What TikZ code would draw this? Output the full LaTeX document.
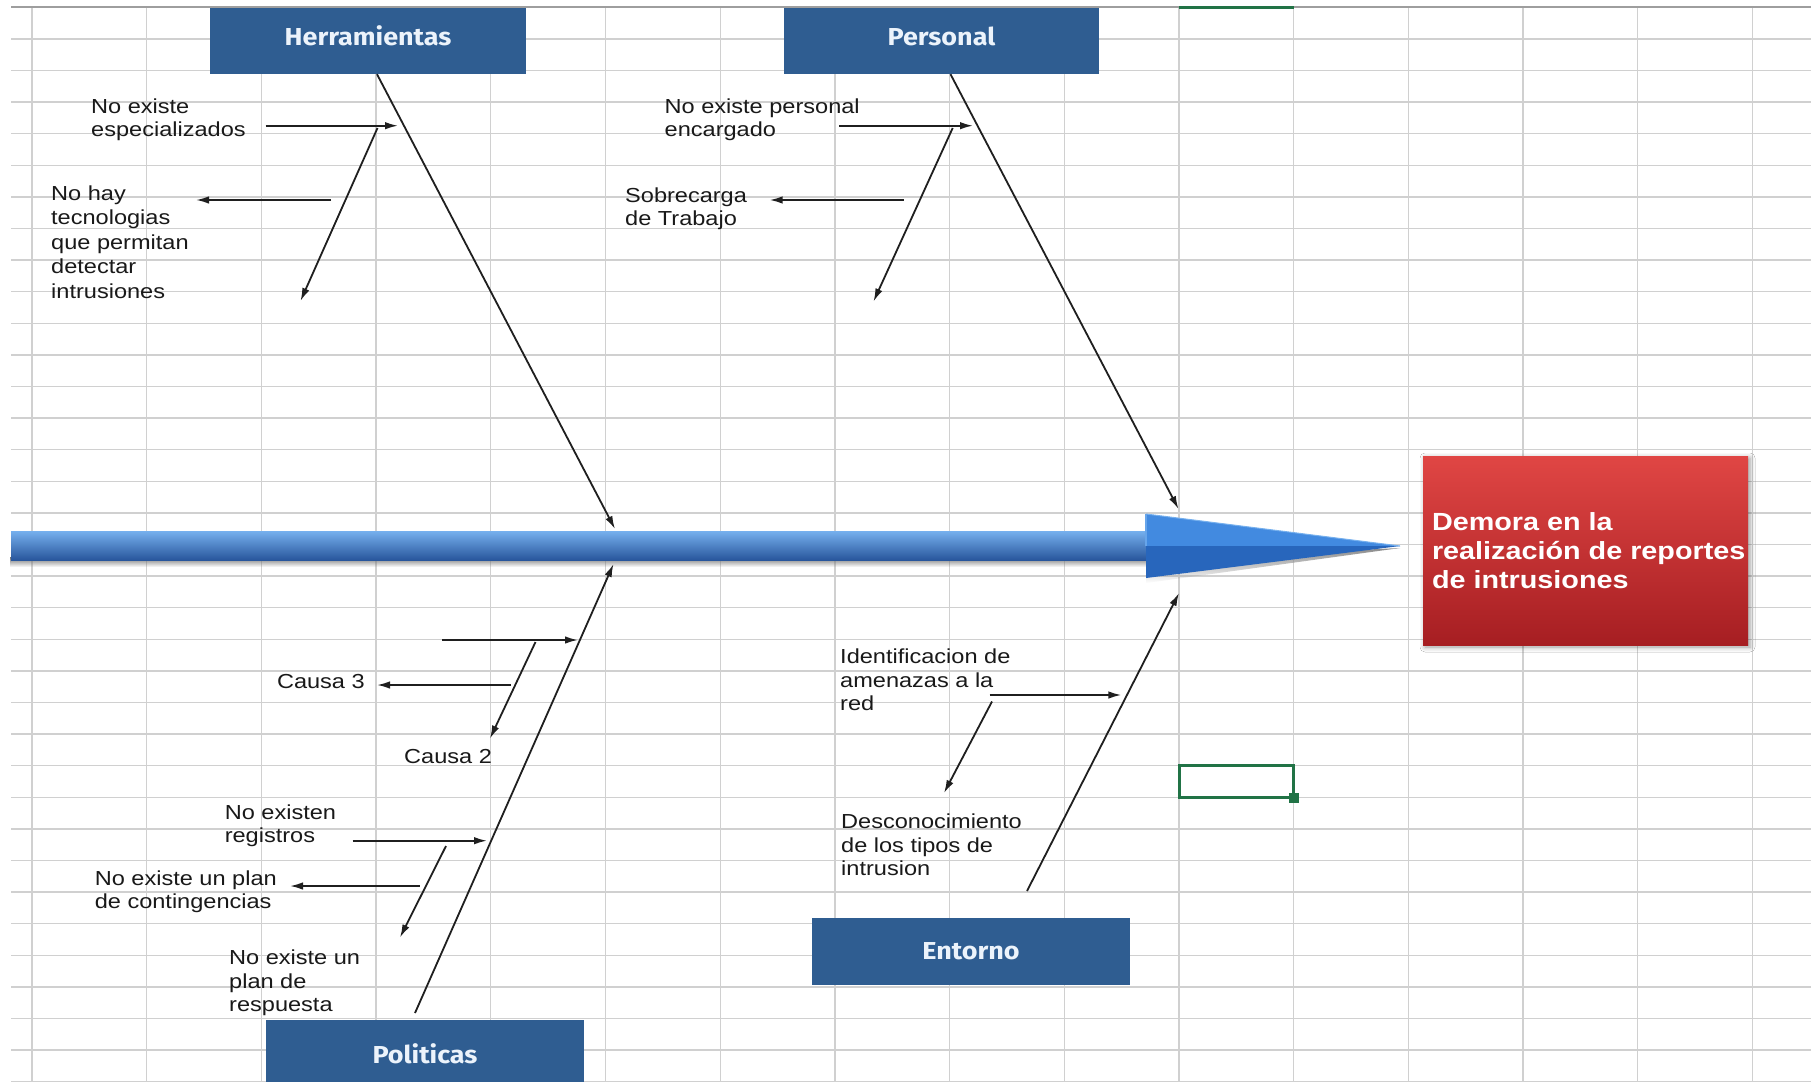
\documentclass[tikz,border=0pt]{standalone}
\usepackage{fontspec}
\setmainfont{Liberation Sans}
\newfontfamily\labelfont{Liberation Sans}[FakeStretch=1.16]
\newfontfamily\titlefont{Fira Sans}[FakeStretch=1.10]
\usetikzlibrary{arrows.meta,fadings,shadows.blur}

\definecolor{gridgray}{RGB}{208,208,208}
\definecolor{boneblue}{RGB}{47,93,145}
\definecolor{titlewhite}{RGB}{236,243,251}
\definecolor{excelgreen}{RGB}{33,115,70}
\definecolor{redtop}{RGB}{224,70,68}
\definecolor{redmid}{RGB}{206,52,52}
\definecolor{redbot}{RGB}{166,30,34}
\definecolor{shafttop}{RGB}{118,176,238}
\definecolor{shaftmid}{RGB}{56,122,210}
\definecolor{shaftbot}{RGB}{40,86,156}
\definecolor{headlight}{RGB}{66,138,224}
\definecolor{headdark}{RGB}{40,102,188}

\begin{document}
\begin{tikzpicture}[x=1pt,y=-1pt,
  gridline/.style={draw=gridgray, line width=1.3pt},
  titlebox/.style={fill=boneblue, text=titlewhite, inner sep=0pt,
    font=\titlefont\bfseries\fontsize{24.5}{29}\selectfont},
  raised/.style={text height=18pt, text depth=9pt},
  bone/.style={draw=black!88, line width=1.8pt, -{Latex[length=13pt,width=7.5pt]}},
  cause/.style={anchor=west, align=left, inner sep=0pt, text=black!90,
    font=\labelfont\fontsize{20.3}{23.3}\selectfont},
]
% sheet background and cell grid
\fill[white] (0,0) rectangle (1811,1081);
\useasboundingbox (0,0) rectangle (1811,1081);
\foreach \k in {1,...,34} {\draw[gridline] (11,{7.3+31.6*\k}) -- (1811,{7.3+31.6*\k});}
\foreach \k in {0,...,15} {\draw[gridline] ({32+114.7*\k},7.3) -- ({32+114.7*\k},1081);}
\draw[draw=black!38, line width=2pt] (11,7.3) -- (1811,7.3);
\draw[excelgreen, line width=3pt] (1179,7.3) -- (1293.7,7.3);

% active cell with its fill handle
\draw[excelgreen, line width=3pt] (1179,765.7) rectangle (1293.7,797.3);
\fill[excelgreen] (1289,793) rectangle (1299,803);

% spine of the diagram
\fill[black!55, path fading=south] (11,557) rectangle (1150,567);
\shade[top color=shafttop, middle color=shaftmid, bottom color=shaftbot] (11,531) rectangle (1150,560);
\fill[black!45, path fading=south] (1146,560) -- (1400,548) -- (1146,583) -- cycle;
\fill[headlight] (1146,514) -- (1400,546) -- (1146,546) -- cycle;
\fill[headdark] (1146,546) -- (1400,546) -- (1146,578) -- cycle;
\draw[shafttop, line width=1pt] (1146,514) -- (1400,546);
\draw[shafttop!70!headlight, line width=1.2pt] (1146,514) -- (1146,546);

% effect
\node[minimum width=325pt, minimum height=189pt, inner sep=0pt,
      top color=redtop, middle color=redmid, bottom color=redbot,
      blur shadow={shadow xshift=2pt, shadow yshift=-2pt, shadow blur radius=5pt}]
      (efecto) at (1585.5,550.5) {};
\node[anchor=west, align=left, inner sep=0pt, text=white,
      font=\labelfont\bfseries\fontsize{24.8}{29}\selectfont]
      (efectotxt) at ([xshift=9pt]efecto.west)
      {Demora en la\\realización de reportes\\de intrusiones};

% category boxes
\node[titlebox, raised, minimum width=316pt, minimum height=66pt] (herr) at (368,41) {Herramientas};
\node[titlebox, raised, minimum width=315pt, minimum height=66pt] (pers) at (941.5,41) {Personal};
\node[titlebox, minimum width=318pt, minimum height=68pt] (pol) at (425,1054) {Politicas};
\node[titlebox, minimum width=318pt, minimum height=67pt] (ent) at (971,951.5) {Entorno};

% bone end points on the spine
\coordinate (herrEnd) at (615,529);
\coordinate (persEnd) at (1178.5,509);
\coordinate (polStart) at (415,1013);
\coordinate (polEnd) at (613.5,564);
\coordinate (entStart) at (1027,891);
\coordinate (entEnd) at (1179,593);

% main bones
\draw[bone] ([xshift=9pt]herr.south) -- (herrEnd);
\draw[bone] ([xshift=9pt]pers.south) -- (persEnd);
\draw[bone] (polStart) -- (polEnd);
\draw[bone] (entStart) -- (entEnd);

% causes: Herramientas
\node[cause] (h1) at (91,119.5) {No existe\\especializados};
\node[cause, font=\labelfont\fontsize{20.3}{24.4}\selectfont] (h2) at (51,242)
  {No hay\\tecnologias\\que permitan\\detectar\\intrusiones};
\coordinate (h1a) at (265.6,125.7); \coordinate (h1b) at (398,125.7);
\coordinate (h2a) at (377.5,128);   \coordinate (h2b) at (300.5,301);
\coordinate (h3a) at (331,200);     \coordinate (h3b) at (196,200);
\draw[bone] (h1a) -- (h1b);
\draw[bone] (h2a) -- (h2b);
\draw[bone] (h3a) -- (h3b);

% causes: Personal
\node[cause] (p1) at (664.5,119.5) {No existe personal\\encargado};
\node[cause] (p2) at (625,208.5) {Sobrecarga\\de Trabajo};
\coordinate (p1a) at (839,125.7);   \coordinate (p1b) at (973,125.7);
\coordinate (p2a) at (952.7,128);   \coordinate (p2b) at (873.5,301.5);
\coordinate (p3a) at (903.6,200);   \coordinate (p3b) at (769.6,200);
\draw[bone] (p1a) -- (p1b);
\draw[bone] (p2a) -- (p2b);
\draw[bone] (p3a) -- (p3b);

% causes: Politicas
\node[cause] (c3) at (276.8,681.7) {Causa 3};
\node[cause] (c2) at (404,757) {Causa 2};
\node[cause] (r1) at (224.6,826) {No existen\\registros};
\node[cause] (r2) at (94.6,891.5) {No existe un plan\\de contingencias};
\node[cause] (r3) at (229,983) {No existe un\\plan de\\respuesta};
\coordinate (k1a) at (442,640);     \coordinate (k1b) at (578,640);
\coordinate (k2a) at (535.5,642);   \coordinate (k2b) at (490,738.5);
\coordinate (k3a) at (511,685);     \coordinate (k3b) at (377,685);
\coordinate (k4a) at (352.7,840.7); \coordinate (k4b) at (487,840.7);
\coordinate (k5a) at (446,846);     \coordinate (k5b) at (400,937.5);
\coordinate (k6a) at (419.6,886);   \coordinate (k6b) at (290,886);
\draw[bone] (k1a) -- (k1b);
\draw[bone] (k2a) -- (k2b);
\draw[bone] (k3a) -- (k3b);
\draw[bone] (k4a) -- (k4b);
\draw[bone] (k5a) -- (k5b);
\draw[bone] (k6a) -- (k6b);

% causes: Entorno
\node[cause] (e1) at (840,680) {Identificacion de\\amenazas a la\\red};
\node[cause] (e2) at (841,845) {Desconocimiento\\de los tipos de\\intrusion};
\coordinate (e1a) at (989.7,695);   \coordinate (e1b) at (1121.4,695);
\coordinate (e2a) at (992,701.5);   \coordinate (e2b) at (944,793);
\draw[bone] (e1a) -- (e1b);
\draw[bone] (e2a) -- (e2b);
\end{tikzpicture}
\end{document}
